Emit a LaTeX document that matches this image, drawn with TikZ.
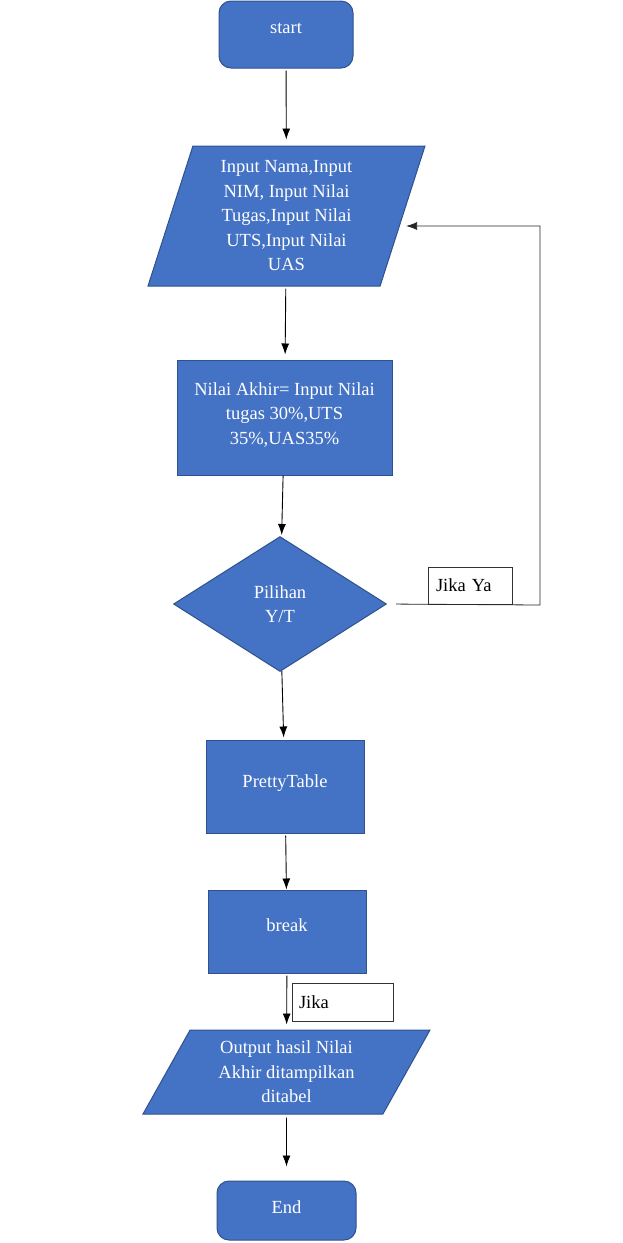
\documentclass[tikz,border=0pt]{standalone}
\usepackage{fontspec}
\setmainfont{Liberation Serif}
\usepackage{tikz}
\usetikzlibrary{shapes.geometric, arrows.meta}
\usepackage{xcolor}
\definecolor{boxblue}{HTML}{4472C4}
\definecolor{edgeblue}{HTML}{2F528F}

\begin{document}
\begin{tikzpicture}[x=1pt, y=-1pt,
        blok/.style={fill=boxblue, draw=edgeblue, line width=1pt, text=white, align=center,
            inner sep=2pt, font=\fontsize{18.5}{24.5}\selectfont},
        terminal/.style={blok, rounded corners=12pt},
        datablok/.style={blok, trapezium, trapezium stretches body=true},
        keterangan/.style={draw=black!80, fill=white, line width=0.8pt, text=black, align=left,
            inner sep=2pt, font=\fontsize{18.5}{24.5}\selectfont},
        panah/.style={-{Latex[length=11pt, width=8pt]}, line width=0.9pt, black}]

        \useasboundingbox (0,0) rectangle (623,1243);

        \node[terminal, minimum width=134pt, minimum height=67pt] (start) at (286,34.5) {start\\[-12pt]};
        \node[datablok, trapezium left angle=68.55, trapezium right angle=111.45,
            minimum width=277pt, minimum height=140pt] (input) at (286.5,216)
            {Input Nama,Input\\NIM, Input Nilai\\Tugas,Input Nilai\\UTS,Input Nilai\\UAS};
        \node[blok, minimum width=215pt, minimum height=115pt] (nilai) at (284.5,417.5)
            {Nilai Akhir= Input Nilai\\tugas 30\%,UTS\\35\%,UAS35\%\\[-16pt]};
        \node[blok, diamond, aspect=1.58, minimum width=213pt, minimum height=135pt] (pilihan) at (280,604)
            {Pilihan\\Y/T};
        \node[keterangan, minimum width=84pt, minimum height=37pt, text width=68pt] (jikaya) at (470,585.5) {Jika Ya};
        \node[blok, minimum width=158pt, minimum height=93pt] (tabel) at (285,786.5) {PrettyTable\\[-14pt]};
        \node[blok, minimum width=158pt, minimum height=83pt] (berhenti) at (287,931.5) {break\\[-12pt]};
        \node[keterangan, minimum width=101pt, minimum height=38pt, text width=87pt] (jika) at (342.5,1002) {Jika};
        \node[datablok, trapezium left angle=54.5, trapezium right angle=125.5,
            minimum width=287pt, minimum height=84pt] (output) at (286.5,1072)
            {Output hasil Nilai\\Akhir ditampilkan\\ditabel};
        \node[terminal, minimum width=139pt, minimum height=59pt] (akhir) at (286.5,1210.5) {End\\[-18pt]};

        \coordinate (loopb) at (540,605);
        \coordinate (loopt) at (540,226);

        \draw[panah, shorten <=2pt, shorten >=6pt] (start) -- (input);
        \draw[panah, shorten <=2pt, shorten >=5pt] (input) -- (nilai);
        \draw[panah, shorten >=2pt] (nilai) -- (pilihan);
        \draw[panah, shorten >=2pt] (pilihan) -- (tabel);
        \draw[panah, shorten <=2pt] (tabel) -- (berhenti);
        \draw[panah, shorten <=2pt, shorten >=5pt] (berhenti) -- (output);
        \draw[panah, shorten <=3pt, shorten >=14pt] (output) -- (akhir);
        \draw[panah, line width=0.8pt, black!85, shorten <=9pt, shorten >=3pt]
            (pilihan.east) -- (loopb) -- (loopt) -- (input.east |- loopt);

    \end{tikzpicture}
\end{document}
